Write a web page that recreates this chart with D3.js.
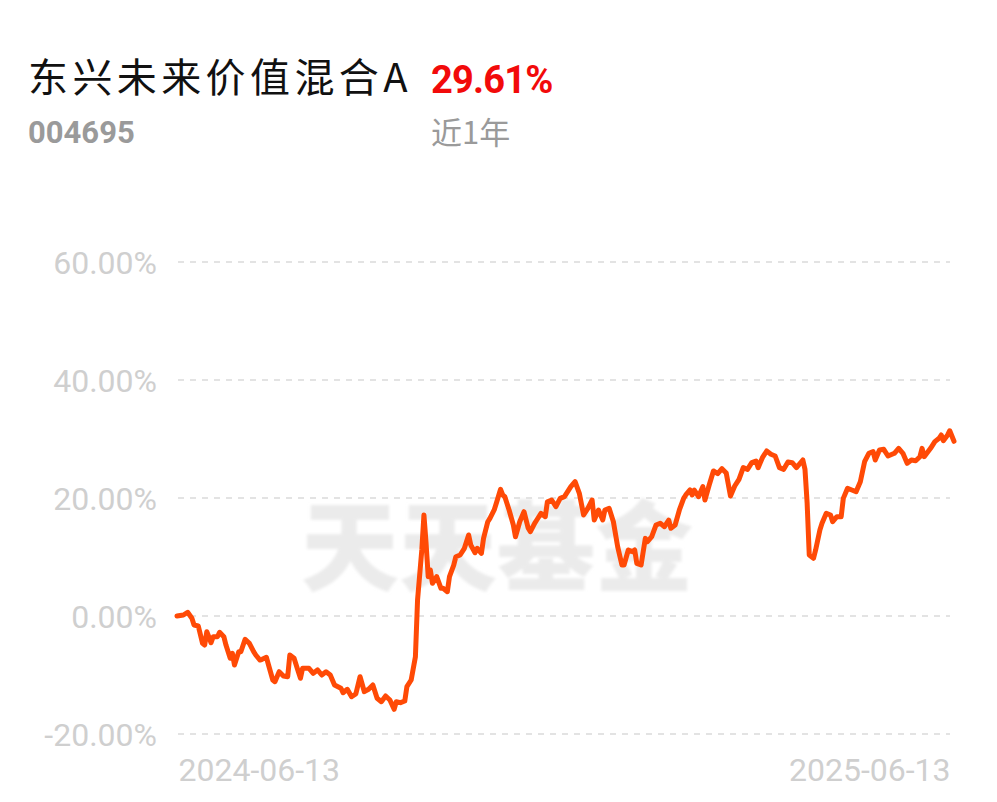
<!DOCTYPE html>
<html>
<head>
<meta charset="utf-8">
<script src="https://cdn.jsdelivr.net/npm/d3@7/dist/d3.min.js"></script>
<style>
  html, body { margin: 0; padding: 0; background: #ffffff; }
  svg { display: block; }
</style>
</head>
<body>
<svg id="chart" width="997" height="802"></svg>
<script>
// ---------- data ----------
const fundName = "东兴未来价值混合A";
const fundCode = "004695";
const periodReturn = "29.61%";
const periodLabel = "近1年";
const watermark = "天天基金";

const yTicks = [-20, 0, 20, 40, 60];
const xTickLabels = ["2024-06-13", "2025-06-13"];

const dates = [
 "2024-06-13","2024-06-16","2024-06-18","2024-06-20","2024-06-21","2024-06-23","2024-06-25","2024-06-26","2024-06-27","2024-06-29",
 "2024-06-30","2024-07-02","2024-07-03","2024-07-05","2024-07-06","2024-07-08","2024-07-09","2024-07-10","2024-07-12","2024-07-13",
 "2024-07-15","2024-07-17","2024-07-19","2024-07-20","2024-07-22","2024-07-23","2024-07-25","2024-07-26","2024-07-28","2024-07-29",
 "2024-07-31","2024-08-02","2024-08-04","2024-08-05","2024-08-07","2024-08-09","2024-08-10","2024-08-11","2024-08-14","2024-08-16",
 "2024-08-18","2024-08-20","2024-08-22","2024-08-24","2024-08-26","2024-08-29","2024-08-30","2024-09-01","2024-09-03","2024-09-05",
 "2024-09-07","2024-09-09","2024-09-11","2024-09-13","2024-09-15","2024-09-17","2024-09-19","2024-09-21","2024-09-23","2024-09-24",
 "2024-09-26","2024-09-28","2024-09-29","2024-10-01","2024-10-03","2024-10-04","2024-10-06","2024-10-07","2024-10-08","2024-10-09",
 "2024-10-10","2024-10-11","2024-10-13","2024-10-15","2024-10-16","2024-10-18","2024-10-19","2024-10-21","2024-10-22","2024-10-24",
 "2024-10-26","2024-10-28","2024-10-29","2024-10-31","2024-11-01","2024-11-03","2024-11-04","2024-11-06","2024-11-07","2024-11-09",
 "2024-11-10","2024-11-12","2024-11-13","2024-11-14","2024-11-16","2024-11-18","2024-11-19","2024-11-21","2024-11-23","2024-11-25",
 "2024-11-26","2024-11-28","2024-11-29","2024-12-01","2024-12-03","2024-12-04","2024-12-06","2024-12-08","2024-12-10","2024-12-12",
 "2024-12-15","2024-12-17","2024-12-19","2024-12-21","2024-12-23","2024-12-25","2024-12-26","2024-12-28","2024-12-30","2024-12-31",
 "2025-01-02","2025-01-04","2025-01-06","2025-01-08","2025-01-09","2025-01-11","2025-01-13","2025-01-14","2025-01-15","2025-01-17",
 "2025-01-19","2025-01-20","2025-01-22","2025-01-24","2025-01-26","2025-01-28","2025-01-30","2025-01-31","2025-02-02","2025-02-04",
 "2025-02-06","2025-02-07","2025-02-09","2025-02-10","2025-02-11","2025-02-13","2025-02-15","2025-02-16","2025-02-18","2025-02-20",
 "2025-02-22","2025-02-24","2025-02-26","2025-02-28","2025-03-02","2025-03-04","2025-03-06","2025-03-08","2025-03-10","2025-03-12",
 "2025-03-13","2025-03-15","2025-03-17","2025-03-19","2025-03-21","2025-03-23","2025-03-25","2025-03-27","2025-03-29","2025-03-31",
 "2025-04-03","2025-04-04","2025-04-05","2025-04-06","2025-04-08","2025-04-09","2025-04-11","2025-04-12","2025-04-14","2025-04-16",
 "2025-04-17","2025-04-19","2025-04-21","2025-04-22","2025-04-24","2025-04-26","2025-04-28","2025-04-30","2025-05-02","2025-05-04",
 "2025-05-06","2025-05-07","2025-05-09","2025-05-11","2025-05-13","2025-05-16","2025-05-18","2025-05-20","2025-05-22","2025-05-24",
 "2025-05-26","2025-05-28","2025-05-29","2025-05-30","2025-06-02","2025-06-04","2025-06-06","2025-06-07","2025-06-08","2025-06-10",
 "2025-06-11","2025-06-13"
];

const returns = [
 0.00, 0.17, 0.63, -0.39, -1.53, -1.69, -4.63, -4.92, -2.66, -4.53,
 -3.51, -3.51, -2.76, -3.51, -4.92, -7.17, -6.32, -8.31, -6.05, -6.05,
 -3.95, -4.63, -6.05, -6.61, -7.46, -7.34, -7.00, -8.31, -10.85, -11.14,
 -9.44, -10.17, -10.29, -6.61, -7.17, -9.44, -10.56, -8.86, -8.86, -9.71,
 -9.15, -10.00, -9.44, -10.00, -11.69, -12.25, -13.00, -12.42, -13.68, -13.22,
 -10.29, -12.83, -12.42, -11.69, -13.95, -14.53, -13.56, -14.24, -15.81, -14.53,
 -14.69, -14.41, -11.98, -10.85, -6.90, 2.71, 11.19, 17.12, 12.32, 6.66,
 7.80, 5.54, 6.66, 4.69, 4.69, 4.12, 6.66, 8.64, 10.05, 10.34,
 11.47, 13.73, 12.03, 10.73, 11.47, 10.62, 13.16, 15.98, 16.55, 17.97,
 19.10, 21.47, 20.51, 20.22, 17.97, 15.42, 13.44, 15.98, 17.68, 14.87,
 14.29, 15.71, 16.27, 17.40, 16.83, 19.37, 19.66, 18.53, 19.94, 20.22,
 21.92, 22.76, 20.79, 17.12, 18.25, 19.66, 16.27, 17.97, 16.27, 17.97,
 18.25, 15.98, 11.75, 8.64, 8.64, 11.19, 10.90, 11.19, 8.93, 8.64,
 13.16, 12.60, 13.44, 15.42, 15.71, 15.14, 16.27, 14.87, 15.42, 17.97,
 19.94, 20.51, 21.36, 20.51, 21.36, 20.22, 21.92, 19.66, 22.20, 24.58,
 24.12, 24.97, 24.24, 20.34, 22.03, 23.17, 25.14, 24.86, 25.99, 26.27,
 25.14, 26.83, 27.97, 27.41, 27.12, 25.14, 24.86, 26.10, 25.99, 25.14,
 26.44, 24.86, 19.20, 10.34, 9.78, 11.19, 14.58, 15.71, 17.40, 17.12,
 15.98, 16.83, 16.83, 19.94, 21.64, 21.36, 21.07, 22.76, 26.15, 27.58,
 27.85, 26.44, 28.14, 28.25, 27.12, 27.58, 28.42, 27.58, 25.88, 26.44,
 26.32, 27.00, 28.42, 27.00, 28.42, 29.55, 30.12, 30.68, 29.72, 30.68,
 31.40, 29.61
];

// ---------- drawing ----------
const parse = d3.timeParse("%Y-%m-%d");
const points = dates.map((d, i) => ({ date: parse(d), value: returns[i] }));

const svg = d3.select("#chart");
const plot = { left: 177, right: 954, top: 262, bottom: 734 };

const x = d3.scaleTime()
  .domain([parse(xTickLabels[0]), parse(xTickLabels[1])])
  .range([plot.left, plot.right]);
const y = d3.scaleLinear()
  .domain([d3.min(yTicks), d3.max(yTicks)])
  .range([plot.bottom, plot.top]);

// header
svg.append("text")
  .attr("x", 28).attr("y", 92)
  .attr("font-family", "'Noto Sans CJK SC', 'Noto Sans', sans-serif")
  .attr("font-size", 40).attr("letter-spacing", 4.4)
  .attr("fill", "#111111")
  .text(fundName);

svg.append("text")
  .attr("x", 431).attr("y", 93)
  .attr("font-family", "Roboto, 'Noto Sans', sans-serif")
  .attr("font-weight", 700)
  .attr("font-size", 38)
  .attr("letter-spacing", -0.8)
  .attr("fill", "#f20a0a")
  .text(periodReturn);

svg.append("text")
  .attr("x", 28).attr("y", 143)
  .attr("font-family", "Roboto, 'Noto Sans', sans-serif")
  .attr("font-weight", 700)
  .attr("font-size", 31)
  .attr("fill", "#9a9a9a")
  .text(fundCode);

svg.append("text")
  .attr("x", 431).attr("y", 144)
  .attr("font-family", "'Noto Sans CJK SC', 'Noto Sans', sans-serif")
  .attr("font-size", 31)
  .attr("fill", "#9a9a9a")
  .text(periodLabel);

// watermark
const defs = svg.append("defs");
defs.append("filter").attr("id", "soft")
  .append("feGaussianBlur").attr("stdDeviation", 1.4);

svg.append("text")
  .attr("x", 497).attr("y", 583)
  .attr("text-anchor", "middle")
  .attr("font-family", "'Noto Sans CJK SC', sans-serif")
  .attr("font-weight", 900)
  .attr("font-size", 98)
  .attr("fill", "#ebebeb")
  .attr("filter", "url(#soft)")
  .text(watermark);

// y grid + labels
const yAxis = d3.axisLeft(y)
  .tickValues(yTicks)
  .tickSize(0)
  .tickPadding(20)
  .tickFormat(d => d.toFixed(2) + "%");

const gy = svg.append("g")
  .attr("transform", `translate(${plot.left},0)`)
  .call(yAxis);
gy.select(".domain").remove();
gy.selectAll("text")
  .attr("font-family", "Roboto, 'Noto Sans', sans-serif")
  .attr("font-size", 32)
  .attr("fill", "#cfcfcf")
  .attr("dy", "0.36em")
  .attr("x", -20);

svg.append("g").selectAll("line")
  .data(yTicks)
  .join("line")
  .attr("x1", plot.left + 1).attr("x2", 950)
  .attr("y1", d => y(d)).attr("y2", d => y(d))
  .attr("stroke", "#e3e3e3")
  .attr("stroke-width", 2)
  .attr("stroke-dasharray", "6,6");

// x labels
const xAxis = d3.axisBottom(x)
  .tickValues(xTickLabels.map(parse))
  .tickSize(0)
  .tickFormat(d3.timeFormat("%Y-%m-%d"));
const gx = svg.append("g")
  .attr("transform", `translate(0,${plot.bottom})`)
  .call(xAxis);
gx.select(".domain").remove();
gx.selectAll("text")
  .attr("font-family", "Roboto, 'Noto Sans', sans-serif")
  .attr("font-size", 32)
  .attr("fill", "#cfcfcf")
  .attr("y", 47)
  .attr("dy", 0)
  .attr("text-anchor", (d, i) => i === 0 ? "start" : "end")
  .attr("dx", (d, i) => i === 0 ? 1 : -4);

// line
const line = d3.line()
  .x(d => x(d.date))
  .y(d => y(d.value))
  .curve(d3.curveLinear);

svg.append("path")
  .datum(points)
  .attr("d", line)
  .attr("fill", "none")
  .attr("stroke", "#ff4a06")
  .attr("stroke-width", 5)
  .attr("stroke-linejoin", "round")
  .attr("stroke-linecap", "round");
</script>
</body>
</html>
